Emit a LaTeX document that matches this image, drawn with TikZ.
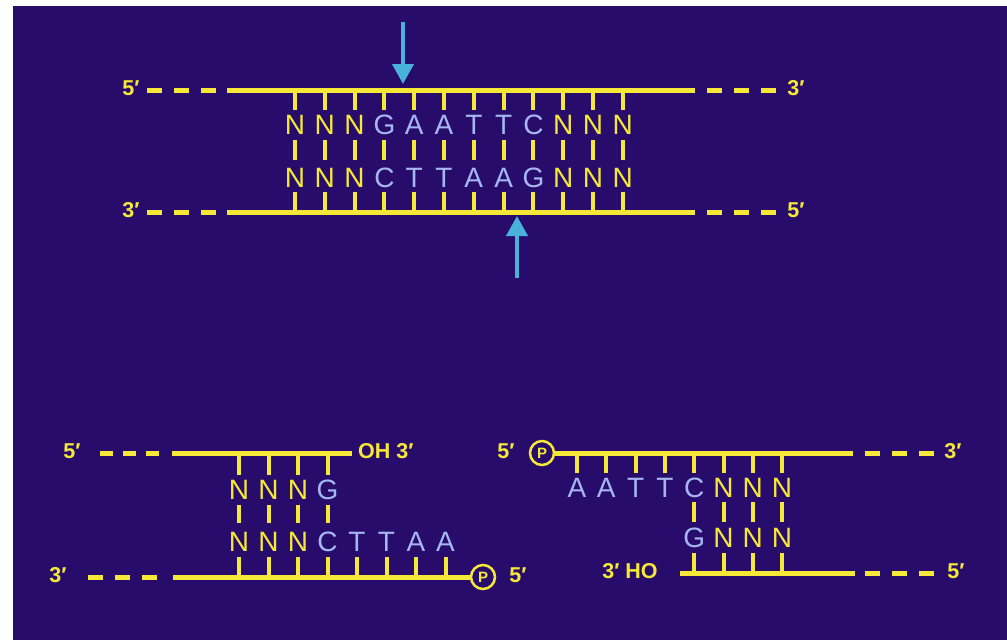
\documentclass[tikz,border=0pt]{standalone}
\usepackage{fontspec}
\setmainfont{Liberation Sans}
\usetikzlibrary{arrows.meta}
\definecolor{bgblue}{RGB}{40,12,108}
\definecolor{dnayellow}{RGB}{245,232,55}
\definecolor{sitecol}{RGB}{165,182,240}
\definecolor{cutcol}{RGB}{72,178,218}
\begin{document}
\begin{tikzpicture}[x=1pt, y=-1pt,
  strand/.style={line width=5pt, dnayellow},
  tail/.style={strand, dash pattern=on 15pt off 12pt},
  rung/.style={line width=4pt, dnayellow},
  base/.style={inner sep=0pt, text=dnayellow, font=\fontsize{28}{28}\selectfont},
  site/.style={base, text=sitecol},
  endlab/.style={inner sep=0pt, text=dnayellow, font=\bfseries\fontsize{21.5}{21.5}\selectfont},
  phos/.style={circle, draw=dnayellow, line width=2.5pt, inner sep=0pt, minimum size=24pt,
    text=dnayellow, font=\bfseries\fontsize{15}{15}\selectfont},
  cutarrow/.style={-{Triangle[width=21pt,length=20pt]}, line width=4pt, cutcol}]
\useasboundingbox (0,0) rectangle (1007,640);
\fill[white] (0,0) rectangle (1007,640);
\fill[bgblue] (13,6) rectangle (1007,640);
% intact duplex with the EcoRI site
\coordinate (top) at (227,90);
\coordinate (bot) at (227,212);
\draw[strand] (top) -- (695,90);
\draw[strand] (bot) -- (695,212);
\foreach \y in {90,212} {
  \draw[tail] (147,\y) -- (216,\y);
  \draw[tail] (707,\y) -- (776,\y);
}
\node[endlab] (a5) at (131,88) {5′};
\node[endlab] (a3r) at (796,88) {3′};
\node[endlab] (a3) at (131,210) {3′};
\node[endlab] (a5r) at (796,210) {5′};
\foreach \b/\s [count=\i] in {N/base,N/base,N/base,G/site,A/site,A/site,T/site,T/site,C/site,N/base,N/base,N/base}
  \node[\s] (w\i) at ({265.2+29.8*\i},125) {\b};
\foreach \b/\s [count=\i] in {N/base,N/base,N/base,C/site,T/site,T/site,A/site,A/site,G/site,N/base,N/base,N/base}
  \node[\s] (c\i) at ({265.2+29.8*\i},178) {\b};
\foreach \i in {1,...,12} {
  \draw[rung, shorten <=5pt] (w\i.north) -- (w\i |- top);
  \draw[rung, shorten <=5pt, shorten >=8pt] (w\i.south) -- (c\i.north);
  \draw[rung, shorten <=4pt] (c\i.south) -- (c\i |- bot);
}
\coordinate (topcut) at (403,84);
\coordinate (botcut) at (517,216);
\draw[cutarrow] (403,22) -- (topcut);
\draw[cutarrow] (517,278) -- (botcut);
% left fragment
\coordinate (lt) at (172,453);
\coordinate (lb) at (173,577);
\draw[strand] (lt) -- (352,453);
\draw[tail, dash pattern=on 13pt off 10pt] (100,453) -- (160,453);
\draw[tail] (88,577) -- (158,577);
\node[endlab] (l5) at (72,451) {5′};
\node[endlab, anchor=west] (loh) at (358,451) {OH 3′};
\node[endlab] (l3) at (58,575) {3′};
\node[phos] (lp) at (483,577) {P};
\node[endlab] (l5r) at (518,575) {5′};
\draw[strand] (lb) -- (lp.west);
\foreach \b/\s [count=\i] in {N/base,N/base,N/base,G/site}
  \node[\s] (lw\i) at ({209.5+29.5*\i},490) {\b};
\foreach \b/\s [count=\i] in {N/base,N/base,N/base,C/site,T/site,T/site,A/site,A/site}
  \node[\s] (lc\i) at ({209.5+29.5*\i},542) {\b};
\foreach \i in {1,...,4} {
  \draw[rung, shorten <=5pt] (lw\i.north) -- (lw\i |- lt);
  \draw[rung, shorten <=5pt, shorten >=9pt] (lw\i.south) -- (lc\i.north);
}
\foreach \i in {1,...,8}
  \draw[rung, shorten <=5pt] (lc\i.south) -- (lc\i |- lb);
% right fragment
\coordinate (rb) at (680,573);
\node[phos] (rp) at (542,453) {P};
\node[endlab] (r5) at (506,451) {5′};
\node[endlab] (r3) at (953,451) {3′};
\node[endlab] (rho) at (630,571) {3′ HO};
\node[endlab] (r5r) at (956,571) {5′};
\draw[strand] (rp.east) -- (853,453);
\draw[strand] (rb) -- (855,573);
\draw[tail] (865,453) -- (935,453);
\draw[tail] (865,573) -- (935,573);
\foreach \b/\s [count=\i] in {A/site,A/site,T/site,T/site,C/site,N/base,N/base,N/base}
  \node[\s] (rw\i) at ({547.7+29.3*\i},488) {\b};
\foreach \b/\s [count=\i from 5] in {G/site,N/base,N/base,N/base}
  \node[\s] (rc\i) at ({547.7+29.3*\i},538) {\b};
\foreach \i in {1,...,8}
  \draw[rung, shorten <=5pt] (rw\i.north) -- (rw\i |- rp);
\foreach \i in {5,...,8} {
  \draw[rung, shorten <=4pt, shorten >=6pt] (rw\i.south) -- (rc\i.north);
  \draw[rung, shorten <=5pt] (rc\i.south) -- (rc\i |- rb);
}
\end{tikzpicture}
\end{document}
